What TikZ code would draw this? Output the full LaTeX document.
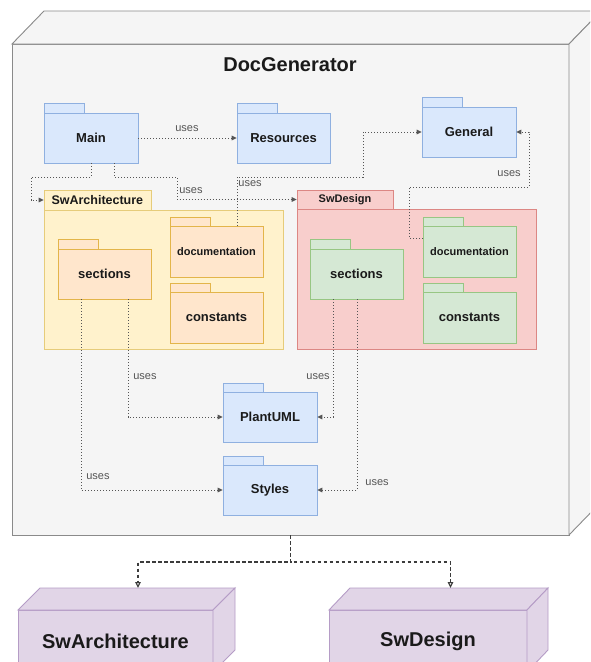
\documentclass[tikz,border=0pt]{standalone}
\usepackage{fontspec}
\setmainfont{Liberation Sans}
\usetikzlibrary{arrows.meta,calc}

\definecolor{txt}{HTML}{1A1A1A}
\definecolor{usestxt}{HTML}{555555}
\definecolor{linegray}{HTML}{555555}
\definecolor{cubefill}{HTML}{F5F5F5}
\definecolor{cubedraw}{HTML}{8A8A8A}
\definecolor{bluefill}{HTML}{DAE8FC}
\definecolor{bluedraw}{HTML}{8FB0E0}
\definecolor{yelfill}{HTML}{FFF2CC}
\definecolor{yeldraw}{HTML}{E6CC7A}
\definecolor{orfill}{HTML}{FFE6CC}
\definecolor{ordraw}{HTML}{E3B54A}
\definecolor{redfill}{HTML}{F8CECC}
\definecolor{reddraw}{HTML}{DC8784}
\definecolor{grnfill}{HTML}{D5E8D4}
\definecolor{grndraw}{HTML}{97C683}
\definecolor{purfill}{HTML}{E1D5E7}
\definecolor{purdraw}{HTML}{B59CC6}

% folder-shaped package: style, name, x, y (body top), width, height, tab height, label
\newcommand\folder[8]{%
  \node[#1, minimum width=#5pt, minimum height=#6pt] (#2) at (#3,#4) {#8};
  \draw[#1] (#2.north west) rectangle ++(40,-#7);
}

\begin{document}
\begin{tikzpicture}[x=1pt,y=-1pt,
  pkgbase/.style={draw, line width=0.9pt, inner sep=0pt, outer sep=0pt, anchor=north west,
    text=txt, font=\bfseries\fontsize{13}{15}\selectfont},
  bluepkg/.style={pkgbase, fill=bluefill, draw=bluedraw},
  orpkg/.style={pkgbase, fill=orfill, draw=ordraw},
  grnpkg/.style={pkgbase, fill=grnfill, draw=grndraw},
  docfont/.style={font=\bfseries\fontsize{11}{13}\selectfont},
  cubeface/.style={fill=cubefill, draw=cubedraw, line width=0.9pt},
  purface/.style={fill=purfill, draw=purdraw, line width=0.9pt},
  uses/.style={draw=linegray, line width=1pt, dash pattern=on 1.2pt off 1.8pt,
    -{Stealth[length=5pt,width=4.5pt,inset=0pt]}, shorten >=0.3pt},
  realize/.style={draw=txt!85, line width=1.1pt, dash pattern=on 3.5pt off 2.5pt,
    -{Triangle[open,length=6pt,width=5.5pt]}},
  useslbl/.style={text=usestxt, font=\fontsize{11}{13}\selectfont, inner sep=0pt},
]
\useasboundingbox (0,0) rectangle (590,662);
\clip (0,0) rectangle (590,662);
\fill[white] (0,0) rectangle (590,662);

% the DocGenerator node
\node[cubeface, inner sep=0pt, outer sep=0pt, anchor=north west,
      minimum width=557pt, minimum height=491pt] (docgen) at (12,44) {};
\draw[cubeface] (docgen.north west) -- ++(32,-33) -- ++(557,0) -- ++(-32,33) -- cycle;
\draw[cubeface] (docgen.north east) -- ++(32,-33) -- ++(0,491) -- ++(-32,33) -- cycle;
\node[text=txt, font=\bfseries\fontsize{20}{24}\selectfont] (title) at (290,65) {DocGenerator};

% top-level packages
\folder{bluepkg}{main}{44}{113}{94}{50}{10}{Main}
\folder{bluepkg}{res}{237}{113}{93}{50}{10}{Resources}
\folder{bluepkg}{general}{422}{107}{94}{50}{10}{General}

% SwArchitecture package
\node[pkgbase, fill=yelfill, draw=yeldraw, minimum width=239pt, minimum height=139pt] (swa) at (44,210) {};
\node[pkgbase, fill=yelfill, draw=yeldraw, anchor=south west, minimum width=107pt, minimum height=20pt,
      font=\bfseries\fontsize{12.5}{14}\selectfont, align=left, text width=92pt, inner xsep=7.5pt]
      (swatab) at (swa.north west) {SwArchitecture};
\folder{orpkg}{swasec}{58}{249}{93}{50}{10}{sections}
\folder{orpkg,docfont}{swadoc}{170}{226}{93}{51}{9}{documentation}
\folder{orpkg}{swacons}{170}{292}{93}{51}{9}{constants}

% SwDesign package
\node[pkgbase, fill=redfill, draw=reddraw, minimum width=239pt, minimum height=140pt] (swd) at (297,209) {};
\node[pkgbase, fill=redfill, draw=reddraw, anchor=south west, minimum width=96pt, minimum height=19pt,
      font=\bfseries\fontsize{11}{13}\selectfont] (swdtab) at (swd.north west) {SwDesign};
\folder{grnpkg}{swdsec}{310}{249}{93}{50}{10}{sections}
\folder{grnpkg,docfont}{swddoc}{423}{226}{93}{51}{9}{documentation}
\folder{grnpkg}{swdcons}{423}{292}{93}{51}{9}{constants}

% shared packages
\folder{bluepkg}{plant}{223}{392}{94}{50}{9}{PlantUML}
\folder{bluepkg}{styles}{223}{465}{94}{50}{9}{Styles}

% deployment targets
\node[purface, inner sep=0pt, outer sep=0pt, anchor=north west, minimum width=195pt, minimum height=62pt,
      text=txt, font=\bfseries\fontsize{20}{24}\selectfont] (swacube) at (18,610) {SwArchitecture};
\draw[purface] (swacube.north west) -- ++(22,-22) -- ++(195,0) -- ++(-22,22) -- cycle;
\draw[purface] (swacube.north east) -- ++(22,-22) -- ++(0,62) -- ++(-22,22) -- cycle;
\node[purface, inner sep=0pt, outer sep=0pt, anchor=north west, minimum width=198pt, minimum height=62pt,
      text=txt, font=\bfseries\fontsize{20}{24}\selectfont] (swdcube) at (329,610) {SwDesign};
\draw[purface] (swdcube.north west) -- ++(21,-22) -- ++(198,0) -- ++(-21,22) -- cycle;
\draw[purface] (swdcube.north east) -- ++(21,-22) -- ++(0,62) -- ++(-21,22) -- cycle;

% dependencies
\draw[uses] (main.east) -- (res.west);
\node[useslbl] (l1) at (187,129) {uses};
\draw[uses] (main.south) -- ++(0,14) -| ([xshift=-13pt]swatab.west) -- (swatab.west);
\draw[uses] ([xshift=23pt]main.south) -- ++(0,14) -| ([xshift=-120pt]swdtab.west) -- (swdtab.west);
\node[useslbl] (l2) at (191,191) {uses};
\draw[uses] ([xshift=20.5pt]swadoc.north) -- ++(0,-49) -| ([xshift=-59pt]general.west) -- (general.west);
\node[useslbl] (l3) at (250,184) {uses};
\draw[uses] ([yshift=13.5pt]swddoc.west) -- ++(-14,0) -- ++(0,-51) -| ([xshift=13pt]general.east) -- (general.east);
\node[useslbl] (l4) at (509,174) {uses};
\draw[uses] ([xshift=23.5pt]swasec.south) |- (plant.west);
\node[useslbl] (l5) at (145,377) {uses};
\draw[uses] ([xshift=-23.5pt]swasec.south) |- (styles.west);
\node[useslbl] (l6) at (98,477) {uses};
\draw[uses] ([xshift=-23.5pt]swdsec.south) |- (plant.east);
\node[useslbl] (l7) at (318,377) {uses};
\draw[uses] ([xshift=0.5pt]swdsec.south) |- (styles.east);
\node[useslbl] (l8) at (377,483) {uses};

% deployment
\draw[realize] (docgen.south) -- ++(0,27) -| ([shift={(22.5,-22)}]swacube.north);
\draw[realize] (docgen.south) -- ++(0,27) -| ([shift={(22.5,-22)}]swdcube.north);
\end{tikzpicture}
\end{document}
